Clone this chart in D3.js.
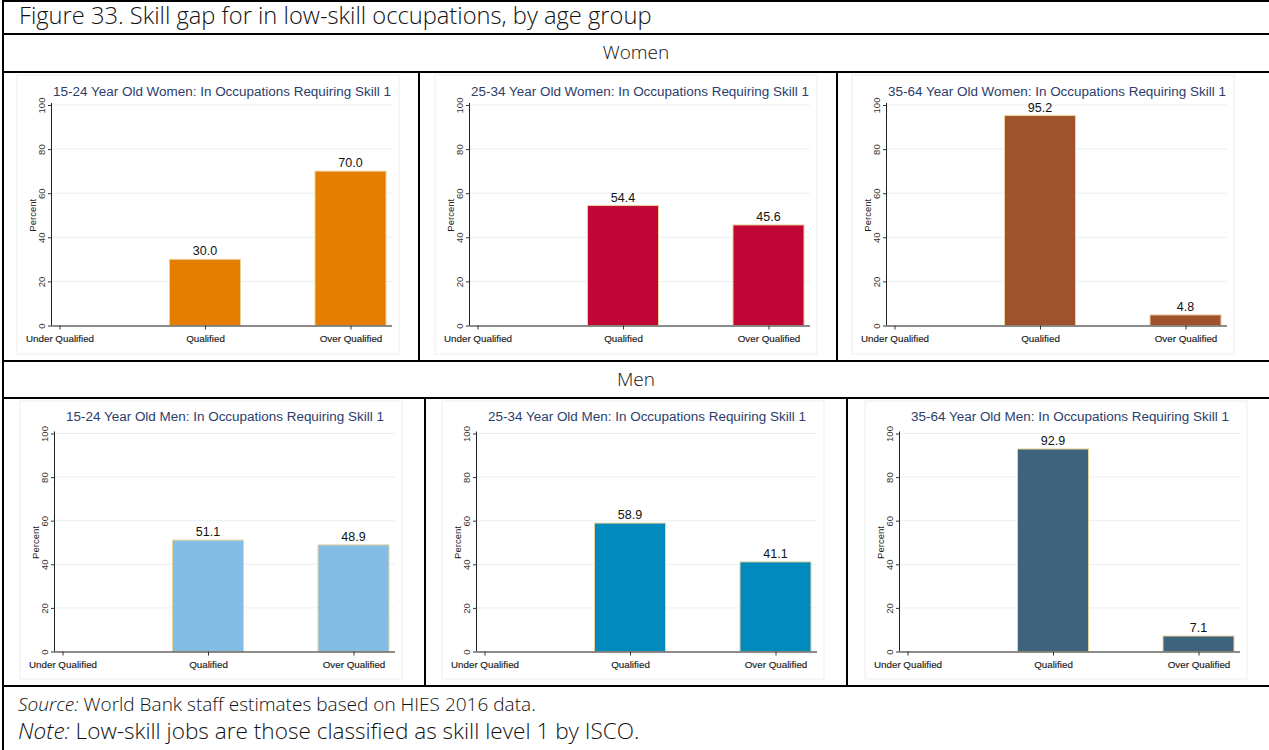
<!DOCTYPE html>
<html><head><meta charset="utf-8">
<script src="https://cdn.jsdelivr.net/npm/d3@7"></script>
<style>body{margin:0;background:#fff}svg{display:block}</style></head>
<body>
<svg id="c" width="1269" height="750"></svg>
<script>
// ---------- data ----------
const categories = ["Under Qualified", "Qualified", "Over Qualified"];
const yTicks = [0, 20, 40, 60, 80, 100];
const ageGroups = ["15-24", "25-34", "35-64"];
const sexGroups = ["Women", "Men"];
const women1524 = [null, 30.0, 70.0];
const women2534 = [null, 54.4, 45.6];
const women3564 = [null, 95.2, 4.8];
const men1524 = [null, 51.1, 48.9];
const men2534 = [null, 58.9, 41.1];
const men3564 = [null, 92.9, 7.1];
const womenColors = ["#e37e00", "#c10534", "#a0522d"];
const menColors = ["#83bde6", "#008bbc", "#3e647d"];
const figTitle = "Figure 33. Skill gap for in low-skill occupations, by age group";
const sourceLabel = "Source:";
const sourceText = " World Bank staff estimates based on HIES 2016 data.";
const noteLabel = "Note:";
const noteText = " Low-skill jobs are those classified as skill level 1 by ISCO.";

// ---------- layout ----------
const rows = [
  { sex: "Women", series: [women1524, women2534, women3564], colors: womenColors,
    header: [34, 72], body: [72, 361], cells: [3, 419, 837, 1267], axOff: [49, 51, 50],
    yTop: 105, yBot: 325.5, titleOff: 9 },
  { sex: "Men", series: [men1524, men2534, men3564], colors: menColors,
    header: [361, 398], body: [398, 686], cells: [3, 425, 847, 1267], axOff: [52, 52, 53],
    yTop: 433.5, yBot: 651.5, titleOff: 12.5 }
];
const plotW = 340, barW = 71;
const svg = d3.select("#c");
const tableFont = "'Open Sans', 'Noto Sans', sans-serif";
const chartFont = "'Liberation Sans', Arial, sans-serif";

function fitSize(sel, target) {
  const w = sel.node().getComputedTextLength();
  const fs = parseFloat(sel.attr("font-size"));
  return fs * target / w;
}

// measure chart title size so the women title spans the plot width
const probe = svg.append("text").attr("font-family", chartFont).attr("font-size", 12)
  .text(`${ageGroups[0]} Year Old ${sexGroups[0]}: In Occupations Requiring Skill 1`);
const titleSize = fitSize(probe, 338);
probe.remove();

rows.forEach((row, ri) => {
  row.series.forEach((vals, pi) => {
    const cellL = row.cells[pi];
    const ax = cellL + row.axOff[pi];
    const g = svg.append("g");
    // faint image frame
    g.append("rect").attr("x", ax - 35).attr("y", row.body[0] + 3)
      .attr("width", 382).attr("height", row.body[1] - row.body[0] - 10)
      .attr("fill", "#fff").attr("stroke", "#eeeeee");
    const y = d3.scaleLinear().domain([0, 100]).range([row.yBot, row.yTop]);
    const x = d3.scalePoint().domain(categories).range([ax + 7.5, ax + 298.5]);
    // grid
    g.selectAll(".grid").data(yTicks.filter(t => t > 0)).join("line")
      .attr("x1", ax).attr("x2", ax + plotW)
      .attr("y1", d => y(d)).attr("y2", d => y(d))
      .attr("stroke", "#e9f0f2").attr("stroke-width", 1);
    // bars
    const data = categories.map((c, i) => ({ c, v: vals[i] })).filter(d => d.v !== null);
    g.selectAll(".bar").data(data).join("rect")
      .attr("x", d => x(d.c) - barW / 2).attr("width", barW)
      .attr("y", d => y(d.v)).attr("height", d => y(0) - y(d.v))
      .attr("fill", row.colors[pi]).attr("stroke", "#e8d29c").attr("stroke-width", 1);
    g.selectAll(".val").data(data).join("text")
      .attr("x", d => x(d.c)).attr("y", d => y(d.v) - 4)
      .attr("text-anchor", "middle").attr("font-family", chartFont).attr("font-size", 12.5)
      .attr("fill", "#111").text(d => d.v.toFixed(1));
    // y axis
    const yAx = g.append("g").attr("transform", `translate(${ax},0)`)
      .call(d3.axisLeft(y).tickValues(yTicks).tickSize(4).tickPadding(3));
    yAx.select(".domain").attr("stroke", "#222").attr("d", `M-0.5,${row.yTop - 2}V${row.yBot}`);
    yAx.selectAll(".tick line").attr("stroke", "#333");
    yAx.selectAll(".tick text")
      .attr("font-family", chartFont).attr("font-size", 9.5).attr("fill", "#333")
      .attr("text-anchor", "middle").attr("x", null).attr("dy", null)
      .attr("transform", "translate(-10,0) rotate(-90)").attr("dominant-baseline", "middle");
    // Percent label
    g.append("text").attr("transform", `translate(${ax - 19},${(row.yTop + row.yBot) / 2}) rotate(-90)`)
      .attr("text-anchor", "middle").attr("dominant-baseline", "middle")
      .attr("font-family", chartFont).attr("font-size", 9.5).attr("fill", "#222").text("Percent");
    // x axis
    const xAx = g.append("g").attr("transform", `translate(0,${row.yBot})`)
      .call(d3.axisBottom(x).tickSize(4).tickPadding(5));
    xAx.select(".domain").attr("stroke", "#666").attr("stroke-width", 1.5)
      .attr("d", `M${ax},0.5H${ax + plotW}`);
    xAx.selectAll(".tick line").attr("stroke", "#333");
    xAx.selectAll(".tick text").attr("font-family", chartFont).attr("font-size", 9.8)
      .attr("fill", "#1a1a1a").attr("stroke", "#1a1a1a").attr("stroke-width", 0.15)
      .attr("dy", "0.8em");
    // title
    g.append("text").attr("x", ax + 170).attr("y", row.yTop - row.titleOff)
      .attr("text-anchor", "middle").attr("font-family", chartFont).attr("font-size", titleSize)
      .attr("fill", "#2b3d6b")
      .text(`${ageGroups[pi]} Year Old ${row.sex}: In Occupations Requiring Skill 1`);
  });
  // row header
  svg.append("text").attr("x", 636).attr("y", row.header[0] + 25)
    .attr("text-anchor", "middle").attr("font-family", tableFont).attr("font-weight", 300)
    .attr("font-size", 19).attr("fill", "#111").text(row.sex);
});

// figure title
const t = svg.append("text").attr("x", 19).attr("y", 24).attr("font-family", tableFont)
  .attr("font-weight", 300).attr("font-size", 19).attr("fill", "#111").text(figTitle);
t.attr("font-size", fitSize(t, 633));
const s = svg.append("text").attr("x", 18).attr("y", 711).attr("font-family", tableFont)
  .attr("font-weight", 300).attr("font-size", 18).attr("fill", "#111");
s.append("tspan").attr("font-style", "italic").text(sourceLabel);
s.append("tspan").text(sourceText);
s.attr("font-size", fitSize(s, 518));
const n = svg.append("text").attr("x", 18).attr("y", 739).attr("font-family", tableFont)
  .attr("font-weight", 300).attr("font-size", 18).attr("fill", "#111");
n.append("tspan").attr("font-style", "italic").text(noteLabel);
n.append("tspan").text(noteText);
n.attr("font-size", fitSize(n, 622));

// table rules
const lines = svg.append("g").attr("stroke", "#000").attr("stroke-width", 2);
[1, 34, 72, 361, 398, 686].forEach(yy =>
  lines.append("line").attr("x1", 2).attr("x2", 1269).attr("y1", yy).attr("y2", yy));
lines.append("line").attr("x1", 3).attr("x2", 3).attr("y1", 0).attr("y2", 750);
rows.forEach(row => row.cells.slice(1, 3).forEach(cx =>
  lines.append("line").attr("x1", cx).attr("x2", cx).attr("y1", row.body[0]).attr("y2", row.body[1])));
</script>
</body></html>
